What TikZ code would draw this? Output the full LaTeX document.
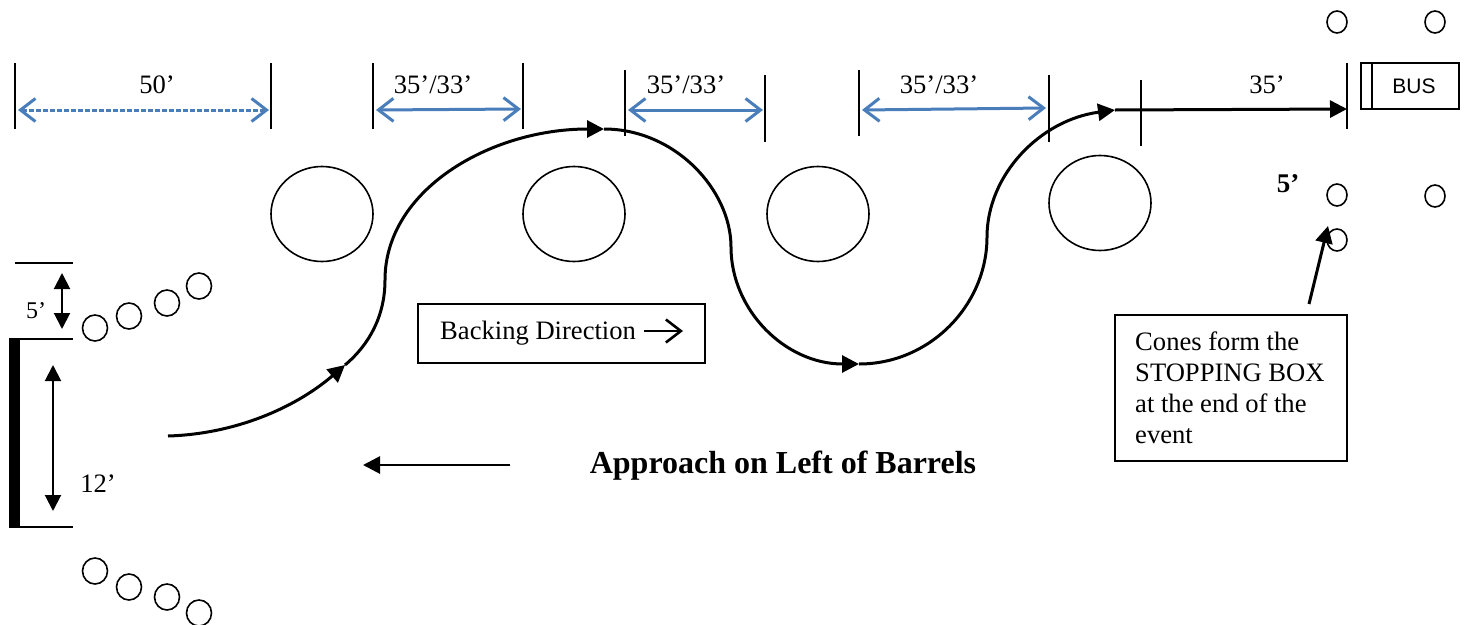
\documentclass[tikz,border=0pt]{standalone}
\usepackage{fontspec}
\setmainfont{Liberation Serif}
\newfontfamily\busfont{Liberation Sans}
\usetikzlibrary{arrows.meta,shapes.geometric}
\definecolor{dimblue}{HTML}{4A7EBB}
\tikzset{
  tick/.style={draw=black,line width=1.6pt},
  barrel/.style={draw=black,ellipse,line width=1.6pt,inner sep=0pt,minimum width=102pt,minimum height=95pt},
  cone/.style={draw=black,ellipse,line width=1.6pt,inner sep=0pt,minimum width=20pt,minimum height=22pt},
  bigcone/.style={cone,minimum width=25pt,minimum height=26pt},
  lbl/.style={inner sep=0pt,font=\fontsize{26.6}{31}\selectfont},
  dimarrow/.style={draw=dimblue,line width=3pt,{Straight Barb[length=15pt,width=23pt,line width=3pt]}-{Straight Barb[length=15pt,width=23pt,line width=3pt]}},
  course/.style={draw=black,line width=3pt,-{Triangle[length=17pt,width=17pt]}},
  blackdim/.style={draw=black,line width=2pt,{Triangle[length=16pt,width=16pt]}-{Triangle[length=16pt,width=16pt]}},
  textbox/.style={draw=black,line width=1.6pt,inner sep=0pt}
}
\begin{document}
\begin{tikzpicture}[x=1pt,y=-1pt]
\useasboundingbox (0,0) rectangle (1467,624);
% tick lines
\foreach \n/\x/\a/\b in {t1/15/63/129,t2/271/63/129,t3/373/63/129,t4/523/63/129,t5/625/70/136,t6/765/75/142,t7/859/70/136,t8/1049/75/142,t9/1141/80/146,t10/1347/63/129}{
  \coordinate (\n a) at (\x,\a);
  \coordinate (\n b) at (\x,\b);
  \draw[tick] (\n a) -- (\n b);
}
% dimension arrows
\coordinate (d1a) at (18,110); \coordinate (d1b) at (269,110);
\coordinate (d2a) at (376,110); \coordinate (d2b) at (521,109);
\coordinate (d3a) at (628,110); \coordinate (d3b) at (763,110);
\coordinate (d4a) at (862,110); \coordinate (d4b) at (1046,108);
\draw[dimarrow,dash pattern=on 5pt off 2pt] (d1a) -- (d1b);
\draw[dimarrow] (d2a) -- (d2b);
\draw[dimarrow] (d3a) -- (d3b);
\draw[dimarrow] (d4a) -- (d4b);
\node[lbl] (l50) at (157,85) {50’};
\node[lbl] (l1) at (433,85) {35’/33’};
\node[lbl] (l2) at (686,85) {35’/33’};
\node[lbl] (l3) at (939,85) {35’/33’};
\node[lbl] (l4) at (1267,85) {35’};
% barrels
\node[barrel] (b1) at (322,214) {};
\node[barrel] (b2) at (574,214) {};
\node[barrel] (b3) at (818,214) {};
\node[barrel] (b4) at (1100,203) {};
% course
\coordinate (c0) at (168,436);
\coordinate (c1) at (345,365);
\coordinate (c2) at (604,129);
\coordinate (c3) at (859,364);
\coordinate (c4) at (1115,110);
\coordinate (c5) at (1347,109);
\draw[course] (c0) .. controls (235,434) and (295,408) .. (c1);
\draw[course] (c1) .. controls (370,344) and (385,315) .. (385,280) .. controls (385,190) and (490,129) .. (c2);
\draw[course] (c2) .. controls (675,129) and (731,190) .. (731,247) .. controls (731,310) and (785,364) .. (c3);
\draw[course] (c3) .. controls (930,364) and (987,305) .. (987,237) .. controls (987,175) and (1040,120) .. (c4);
\draw[course] (c4) -- (c5);
% bus
\node[draw=black,line width=1.6pt,minimum width=98pt,minimum height=46pt,inner sep=0pt] (bus) at (1410,86) {};
\coordinate (busa) at (1372,63); \coordinate (busb) at (1372,109);
\draw[tick] (busa) -- (busb);
\node[inner sep=0pt,font=\busfont\fontsize{21}{25}\selectfont] (bustext) at (1414,86) {BUS};
% stopping box cones
\node[cone] (s1) at (1337,22) {};
\node[cone] (s2) at (1435,22) {};
\node[cone] (s3) at (1337,195) {};
\node[cone] (s4) at (1435,196) {};
\node[cone] (s5) at (1337,240) {};
\node[lbl,font=\bfseries\fontsize{27}{31}\selectfont] (l5b) at (1288,184) {5’};
% note
\node[textbox,minimum width=232pt,minimum height=146pt] (note) at (1231,388) {};
\node[lbl,anchor=north west,align=left,font=\fontsize{26.6}{31}\selectfont] (notetext) at (1135,332) {Cones form the\\STOPPING BOX\\at the end of the\\event};
\coordinate (nt) at (1309,304);
\draw[draw=black,line width=3pt,-{Triangle[length=17pt,width=17pt]}] (nt) -- (1328,226);
% backing direction
\node[textbox,minimum width=287pt,minimum height=59pt] (back) at (561.5,333.5) {};
\node[lbl,anchor=west] (backtext) at (440,333) {Backing Direction};
\coordinate (ba) at (644,331); \coordinate (bb) at (683,331);
\draw[draw=black,line width=2.6pt,-{Straight Barb[length=15pt,width=23pt,line width=2.6pt]}] (ba) -- (bb);
% approach
\coordinate (aa) at (510,465); \coordinate (ab) at (363,465);
\draw[draw=black,line width=2.8pt,-{Triangle[length=17pt,width=17pt]}] (aa) -- (ab);
\node[lbl,font=\bfseries\fontsize{32}{37}\selectfont] (approach) at (783,466) {Approach on Left of Barrels};
% start gate
\coordinate (g0a) at (15,263); \coordinate (g0b) at (73,263);
\coordinate (g1a) at (9,339); \coordinate (g1b) at (73,339);
\coordinate (g2a) at (9,527); \coordinate (g2b) at (73,527);
\draw[tick] (g0a) -- (g0b);
\draw[tick] (g1a) -- (g1b);
\draw[tick] (g2a) -- (g2b);
\fill[black] (9,339) rectangle (20,527);
\coordinate (f1a) at (62,273); \coordinate (f1b) at (62,329);
\coordinate (f2a) at (53,365); \coordinate (f2b) at (53,511);
\draw[blackdim] (f1a) -- (f1b);
\draw[blackdim] (f2a) -- (f2b);
\node[lbl,font=\fontsize{24}{28}\selectfont] (l5) at (36,311) {5’};
\node[lbl] (l12) at (98,484) {12’};
% gate cones
\foreach \n/\x/\y in {g1/95/328,g2/129/316,g3/167/303,g4/199/286,h1/95/571,h2/129/587,h3/167/597,h4/199/613}{
  \node[bigcone] (\n) at (\x,\y) {};
}
\end{tikzpicture}
\end{document}
